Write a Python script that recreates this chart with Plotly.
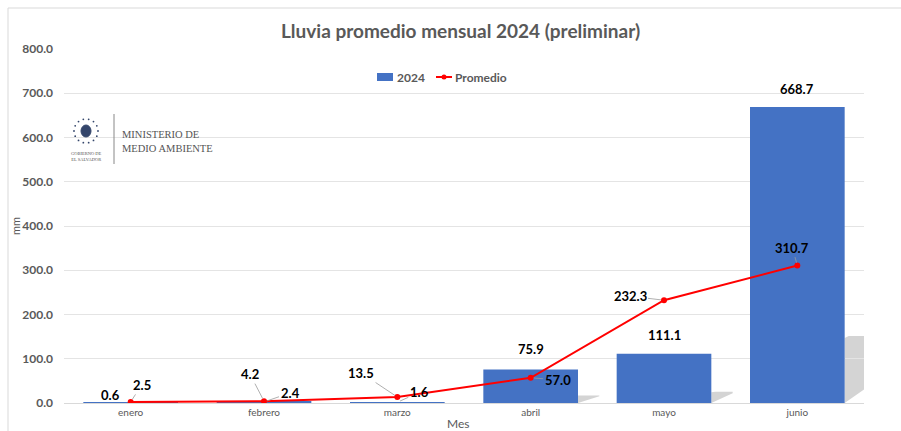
import math
import plotly.graph_objects as go

meses = ["enero", "febrero", "marzo", "abril", "mayo", "junio"]
lluvia_2024 = [0.6, 2.4, 1.6, 75.9, 111.1, 668.7]
promedio = [2.5, 4.2, 13.5, 57.0, 232.3, 310.7]
y_ticks = [0, 100, 200, 300, 400, 500, 600, 700, 800]

W, H = 901, 431
L, R, T, B = 64, 37, 49, 28
PW, PH = W - L - R, H - T - B
Y_MAX = 800

def px_x(px):
    return (px - L) / PW

def px_y(py):
    return (H - B - py) / PH

GRAY = "#595959"
FONT = "Lato"
BLUE = "#4472C4"
RED = "#FF0000"
LBL = dict(family=FONT, size=13, color="#000")

fig = go.Figure()
fig.add_trace(go.Bar(x=meses, y=lluvia_2024, name="2024", marker_color=BLUE,
                     marker_line_width=0, showlegend=False))
fig.add_trace(go.Scatter(x=meses, y=promedio, name="Promedio", mode="lines+markers",
                         line=dict(color=RED, width=2), marker=dict(color=RED, size=6),
                         showlegend=False))

shapes = []
# bar shadows (decorative), derived from bar values
bar_half = 0.355
unit_px = PH / Y_MAX
for i, v in enumerate(lluvia_2024):
    if v < 20:
        continue
    h = v * 0.22
    rise = min(15 / unit_px, h * 0.9)
    x0 = i + bar_half
    d = 0.16
    shapes.append(dict(type="path", xref="x", yref="y", layer="below",
                       path=f"M {x0},0 L {x0},{h} L {x0+0.03},{h*1.03} L {x0+d},{h*1.03} "
                            f"L {x0+d},{rise} Z",
                       fillcolor="#d4d4d4", line_width=0))

annotations = []
# bar labels: (xshift, yshift, arrow)
bar_lab = [(-20, 8, False), (26, -9, True), (22, -10, True),
           (0, 10, False), (0, 9, False), (0, 8, False)]
for m, v, (dx, dy, arrow) in zip(meses, lluvia_2024, bar_lab):
    if arrow:
        annotations.append(dict(x=m, y=v, text=f"<b>{v:.1f}</b>", showarrow=True,
                                ax=dx, ay=dy, arrowhead=0, arrowwidth=0.8,
                                arrowcolor="#9a9a9a", standoff=3, font=LBL))
    else:
        annotations.append(dict(x=m, y=v, text=f"<b>{v:.1f}</b>", showarrow=False,
                                xshift=dx, yshift=dy,
                                yanchor="bottom" if dx == 0 else "middle",
                                font=LBL))

line_lab = [(11, -17), (-14, -27), (-36, -24), (27, 2), (-34, -4), (-5, -18)]
for m, v, (ax, ay) in zip(meses, promedio, line_lab):
    annotations.append(dict(x=m, y=v, text=f"<b>{v:.1f}</b>", showarrow=True,
                            ax=ax, ay=ay, arrowhead=0, arrowwidth=0.8,
                            arrowcolor="#9a9a9a", standoff=3, font=LBL))

def paper_text(x, y, text, size, color=GRAY, family=FONT, xanchor="center", **kw):
    annotations.append(dict(xref="paper", yref="paper", x=px_x(x), y=px_y(y),
                            xanchor=xanchor, yanchor="middle", text=text,
                            showarrow=False, font=dict(family=family, size=size, color=color),
                            **kw))

# title and axis titles
paper_text(460, 30, "<b>Lluvia promedio mensual 2024 (preliminar)</b>", 19)
paper_text(15, 226, "mm", 11, textangle=-90)
paper_text(458, 423, "Mes", 12)

# custom legend
shapes.append(dict(type="rect", xref="paper", yref="paper",
                   x0=px_x(377), x1=px_x(393), y0=px_y(81), y1=px_y(73),
                   fillcolor=BLUE, line_width=0))
paper_text(395, 77, "<b>2024</b>", 12, xanchor="left")
shapes.append(dict(type="line", xref="paper", yref="paper",
                   x0=px_x(436), x1=px_x(452), y0=px_y(77), y1=px_y(77),
                   line=dict(color=RED, width=2)))
shapes.append(dict(type="circle", xref="paper", yref="paper",
                   x0=px_x(441.5), x1=px_x(446.5), y0=px_y(79.5), y1=px_y(74.5),
                   fillcolor=RED, line_width=0))
paper_text(453, 77, "<b>Promedio</b>", 12, xanchor="left")

# logo
shapes.append(dict(type="rect", xref="paper", yref="paper", layer="below",
                   x0=px_x(66), x1=px_x(218), y0=px_y(176), y1=px_y(108),
                   fillcolor="white", line_width=0))
shapes.append(dict(type="line", xref="paper", yref="paper",
                   x0=px_x(114), x1=px_x(114), y0=px_y(114), y1=px_y(164),
                   line=dict(color="#888", width=1)))
paper_text(120, 141, "MINISTERIO DE<br>MEDIO AMBIENTE", 10.5, color="#555",
           family="Liberation Serif", xanchor="left", align="left")
paper_text(86, 156, "GOBIERNO DE<br>EL SALVADOR", 4.5, color="#555",
           family="Liberation Serif")
cx, cy = 86, 131
shapes.append(dict(type="circle", xref="paper", yref="paper", layer="above",
                   x0=px_x(cx - 5), x1=px_x(cx + 5), y0=px_y(cy + 6), y1=px_y(cy - 6),
                   fillcolor="#34466b", line=dict(color="#34466b", width=1)))
for k in range(14):
    a = 2 * math.pi * k / 14
    dx, dy = 12 * math.cos(a), 12 * math.sin(a)
    shapes.append(dict(type="circle", xref="paper", yref="paper",
                       x0=px_x(cx + dx - 0.9), x1=px_x(cx + dx + 0.9),
                       y0=px_y(cy + dy + 0.9), y1=px_y(cy + dy - 0.9),
                       fillcolor="#34466b", line_width=0))

# outer frame lines
shapes.append(dict(type="line", xref="paper", yref="paper",
                   x0=px_x(8), x1=px_x(901), y0=px_y(8), y1=px_y(8),
                   line=dict(color="#d9d9d9", width=1)))
shapes.append(dict(type="line", xref="paper", yref="paper",
                   x0=px_x(8), x1=px_x(8), y0=px_y(8), y1=px_y(431),
                   line=dict(color="#d9d9d9", width=1)))

fig.update_layout(
    width=W, height=H,
    margin=dict(l=L, r=R, t=T, b=B),
    paper_bgcolor="white", plot_bgcolor="white",
    bargap=0.29,
    showlegend=False,
    annotations=annotations,
    shapes=shapes,
    font=dict(family=FONT, color=GRAY),
)
fig.update_xaxes(type="category", showgrid=False, showline=True, linecolor="#d9d9d9",
                 tickfont=dict(family=FONT, size=10, color=GRAY), ticks="",
                 range=[-0.5, 5.5])
fig.update_yaxes(range=[0, Y_MAX], tickvals=y_ticks, tickformat=".1f",
                 showgrid=True, gridcolor="#e4e4e4", gridwidth=1, zeroline=False,
                 showline=False, ticklabelstandoff=10,
                 tickfont=dict(family=FONT, size=12, color=GRAY, weight="bold"))

fig.write_html("out.html")
